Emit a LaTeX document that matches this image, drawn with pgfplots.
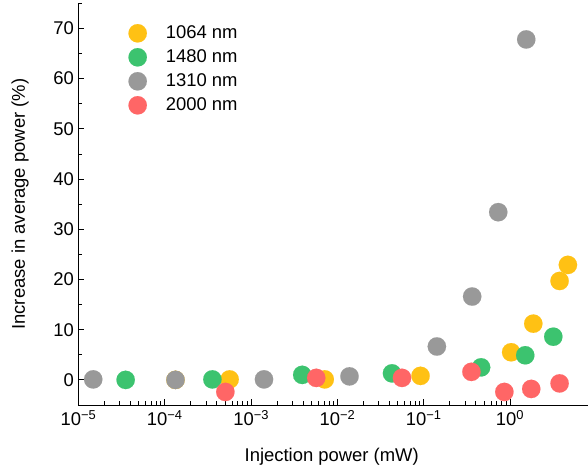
\documentclass[border=0pt]{standalone}
\usepackage{fontspec}
\setmainfont{Liberation Sans}
\usepackage{pgfplots}
\pgfplotsset{compat=1.18}
\definecolor{cY}{RGB}{255,193,20}
\definecolor{cG}{RGB}{60,195,111}
\definecolor{cK}{RGB}{153,153,153}
\definecolor{cR}{RGB}{255,102,102}
\begin{document}
\begin{tikzpicture}
\begin{axis}[
  scale only axis,
  width=509.5bp, height=401.7bp,
  xmode=log,
  xmin=1e-5, xmax=8,
  ymin=-5, ymax=75,
  axis x line*=bottom, axis y line*=left,
  axis line style={-, line width=0.8bp},
  tick style={line width=0.8bp, black},
  tick align=inside,
  major tick length=6bp, minor tick length=3.5bp,
  xtick={1e-5,1e-4,1e-3,1e-2,1e-1,1},
  xticklabels={10\textsuperscript{−5},10\textsuperscript{−4},10\textsuperscript{−3},10\textsuperscript{−2},10\textsuperscript{−1},10\textsuperscript{0}},
  ytick={0,10,20,30,40,50,60,70},
  yticklabels={0,10,20,30,40,50,60,70},
  minor ytick={-5,5,15,25,35,45,55,65,75},
  ticklabel style={font=\fontsize{18.5}{22}\selectfont},
  xticklabel style={yshift=-2bp},
  yticklabel style={xshift=-1bp},
  xlabel={Injection power (mW)},
  ylabel={Increase in average power (\%)},
  label style={font=\fontsize{18.5}{22}\selectfont},
  xlabel style={at={(axis description cs:0.497,-0.1294)}, anchor=center},
  ylabel style={at={(axis description cs:-0.1148,0.5)}, anchor=center, rotate=0},
  clip=false,
  legend image code/.code={\path[draw=none,fill=none] (-9.2bp,-9.2bp) rectangle (9.2bp,9.2bp); \draw[#1, mark repeat=1] plot coordinates {(0bp,0bp)};},
  legend style={at={(axis description cs:0.0981,0.9482)}, anchor=north west, draw=none, fill=none, inner sep=0pt, outer sep=0pt, column sep=19bp, row sep=5.6bp, font=\fontsize{18.5}{22}\selectfont, nodes={inner sep=0pt}},
  legend cell align=left,
]
\addplot[only marks, mark=*, mark size=9.2bp, color=cY, mark options={fill=cY, draw=cY, line width=0.1bp}] coordinates {
 (1.33e-4,0) (5.64e-4,0.1) (7.13e-3,0.1) (0.0918,0.8) (1.03,5.5) (1.86,11.2) (3.75,19.7) (4.68,22.9)};
\addlegendentry{1064 nm}
\addplot[only marks, mark=*, mark size=9.2bp, color=cG, mark options={fill=cG, draw=cG, line width=0.1bp}] coordinates {
 (3.52e-5,0) (3.56e-4,0.1) (3.91e-3,1.0) (0.0429,1.3) (0.462,2.5) (1.50,4.9) (3.17,8.6)};
\addlegendentry{1480 nm}
\addplot[only marks, mark=*, mark size=9.2bp, color=cK, mark options={fill=cK, draw=cK, line width=0.1bp}] coordinates {
 (1.48e-5,0.1) (1.33e-4,0) (1.41e-3,0.1) (0.0138,0.7) (0.142,6.65) (0.364,16.6) (0.73,33.4) (1.54,67.8)};
\addlegendentry{1310 nm}
\addplot[only marks, mark=*, mark size=9.2bp, color=cR, mark options={fill=cR, draw=cR, line width=0.1bp}] coordinates {
 (5.03e-4,-2.4) (5.68e-3,0.4) (0.056,0.4) (0.357,1.6) (0.859,-2.4) (1.76,-1.8) (3.75,-0.7)};
\addlegendentry{2000 nm}
\end{axis}
\pgfresetboundingbox
\path ([shift={(-78.5bp,-62bp)}]current axis.south west) rectangle ([shift={(0bp,3.3bp)}]current axis.north east);
\end{tikzpicture}
\end{document}
